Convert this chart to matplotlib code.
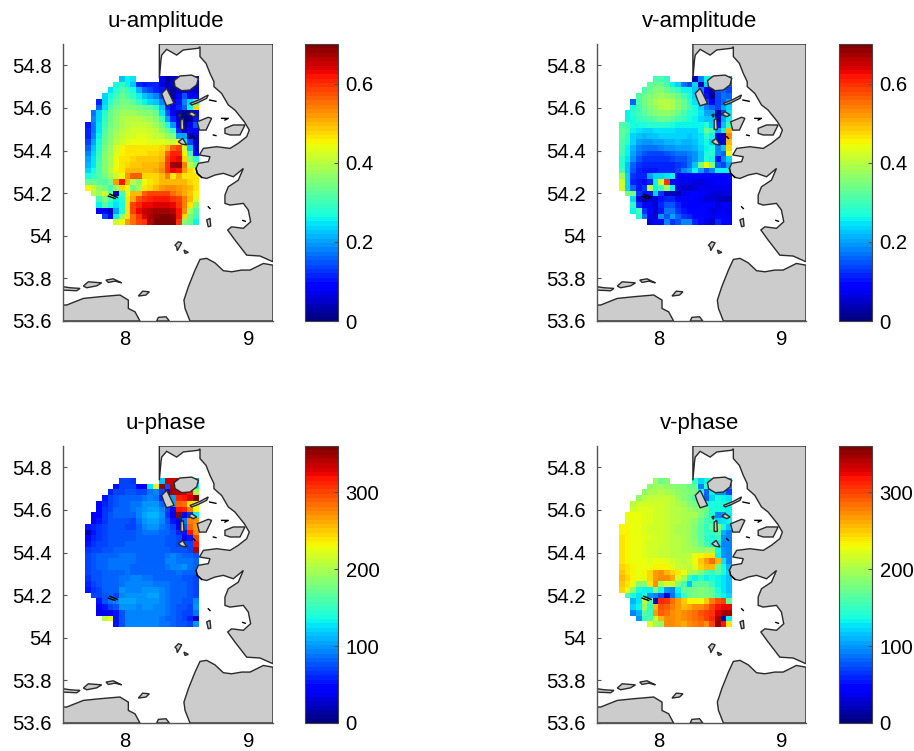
import numpy as np
import matplotlib
matplotlib.use("Agg")
import matplotlib.pyplot as plt

plt.rcParams['font.family'] = ['Liberation Sans', 'DejaVu Sans']
_ = np.nan

lon_edges = np.linspace(7.678, 8.598, 21)
lat_edges = np.linspace(54.75, 54.05, 27)

u_amp = [
[_,_,_,_,_,_,22,26,25,_,_,_,_,8,2,5,7,8,8,9],
[_,_,_,_,_,27,29,26,22,12,10,12,11,6,3,5,8,8,8,7],
[_,_,_,_,25,28,31,30,27,21,16,14,12,10,6,3,5,6,6,5],
[_,_,_,24,27,30,33,31,29,26,22,20,18,14,9,3,8,15,8,8],
[_,_,12,23,29,32,34,34,32,29,26,24,22,18,10,8,10,18,24,30],
[_,_,16,25,31,34,36,36,36,34,33,32,29,22,12,9,11,16,26,48],
[_,17,23,28,33,36,38,38,38,37,36,35,33,25,15,9,5,2,3,8],
[_,18,24,29,33,37,39,40,40,40,39,38,35,30,20,11,6,1,2,10],
[10,17,25,30,34,37,39,40,41,41,41,40,38,34,27,19,9,3,7,15],
[11,17,25,31,35,38,40,41,42,42,42,41,40,37,33,29,12,5,9,8],
[11,18,26,32,36,39,41,42,42,43,43,42,41,40,37,35,20,20,3,6],
[14,20,27,33,37,40,42,43,44,44,44,43,43,43,42,41,45,25,14,5],
[16,22,28,34,38,42,45,46,46,46,46,46,47,48,50,56,58,42,22,6],
[18,23,29,35,38,43,45,47,47,47,47,48,48,49,56,61,61,45,30,9],
[20,25,30,36,39,44,46,47,48,49,49,49,49,50,58,62,63,48,35,28],
[21,25,31,36,39,44,47,48,49,49,50,50,50,52,60,67,68,54,40,36],
[24,27,31,36,40,45,47,50,50,50,50,50,51,53,60,63,62,52,48,44],
[27,29,31,34,38,42,44,52,56,56,48,48,48,50,54,47,51,47,46,46],
[33,33,32,31,34,52,62,50,40,37,44,46,48,50,50,50,50,50,48,46],
[45,41,37,34,30,38,48,44,34,38,47,48,50,52,53,53,52,51,50,47],
[_,40,38,42,33,4,30,44,50,50,56,58,58,59,58,55,53,51,49,45],
[_,_,30,36,30,26,28,47,51,57,60,61,62,62,62,60,58,54,50,43],
[_,_,26,31,27,25,27,47,58,61,63,63,64,64,64,63,60,54,47,36],
[_,_,8,8,5,20,28,46,58,63,65,66,67,67,67,66,62,53,39,31],
[_,_,_,14,8,26,38,47,55,60,64,67,68,69,69,68,62,48,34,30],
[_,_,_,_,_,42,45,52,55,58,60,66,69,70,70,70,60,35,33,26],
]

v_amp = [
[_,_,_,_,_,_,30,31,29,_,_,_,_,4,18,26,26,24,22,20],
[_,_,_,_,_,32,33,33,31,26,24,17,14,24,4,24,22,20,18,16],
[_,_,_,_,31,33,35,35,33,31,29,26,26,22,18,8,3,15,16,14],
[_,_,_,31,34,36,37,38,37,35,33,30,27,23,20,10,2,14,17,16],
[_,_,16,31,34,37,39,40,40,39,36,33,29,25,20,14,8,14,16,20],
[_,_,27,30,33,35,37,39,40,39,36,33,30,27,24,18,16,14,20,24],
[_,26,28,30,32,34,36,37,37,36,33,30,28,27,25,20,20,3,14,25],
[_,26,27,29,30,31,32,33,33,32,30,29,27,26,24,22,22,5,20,26],
[31,30,27,27,27,28,28,28,28,27,26,26,26,26,26,28,24,10,22,30],
[32,31,26,25,24,24,25,25,25,25,24,24,24,24,26,33,30,20,26,50],
[32,29,24,22,21,22,22,23,24,24,23,23,22,23,25,29,26,6,4,53],
[31,28,23,20,19,19,20,20,21,21,22,21,21,22,25,27,24,6,6,50],
[30,26,21,18,17,17,17,18,19,19,20,20,20,21,24,26,27,18,22,48],
[30,26,20,17,15,14,14,14,15,16,17,17,18,19,22,27,28,18,16,44],
[28,25,19,15,13,13,13,13,13,14,15,15,17,19,22,28,26,10,18,24],
[28,22,16,13,11,11,11,11,12,12,13,14,17,22,34,44,36,16,14,20],
[30,22,15,12,10,10,10,11,11,12,14,18,20,26,20,15,18,26,26,26],
[38,24,13,11,11,20,23,24,25,26,8,8,8,8,9,9,9,8,8,8],
[42,24,12,10,9,12,26,42,60,9,7,7,7,6,6,7,7,8,8,8],
[42,24,16,10,13,40,26,30,38,26,6,5,5,6,7,7,7,7,7,7],
[_,34,34,13,10,10,24,13,5,4,4,7,8,9,8,7,6,6,6,7],
[_,_,24,6,3,5,6,10,12,12,9,9,9,8,7,6,6,5,4,4],
[_,_,28,13,8,9,6,12,15,15,12,9,8,8,8,8,8,6,8,9],
[_,_,26,30,13,9,5,10,17,17,13,10,9,9,9,8,6,7,8,7],
[_,_,_,28,17,7,5,19,15,20,16,13,11,9,9,8,7,8,9,8],
[_,_,_,_,_,6,8,8,18,13,15,18,18,11,9,7,5,11,9,8],
]

u_pha = [
[_,_,_,_,_,_,68,70,62,_,_,_,_,115,335,335,340,150,100,110],
[_,_,_,_,_,55,68,72,68,40,35,125,220,350,75,340,350,200,160,130],
[_,_,_,_,60,68,73,76,78,68,72,88,92,68,48,345,340,330,320,200],
[_,_,_,55,68,76,80,80,83,83,86,93,88,58,75,105,310,320,330,355],
[_,_,45,60,70,78,82,82,86,88,96,100,100,83,85,105,290,285,240,220],
[_,_,50,63,72,80,82,84,88,90,100,103,103,93,68,45,320,310,280,225],
[_,40,50,66,74,80,82,80,80,90,103,108,108,98,62,35,350,35,65,130],
[_,45,55,66,74,78,76,74,73,86,98,103,103,93,78,55,35,85,280,270],
[55,60,66,70,74,76,74,72,72,82,92,96,96,88,80,70,45,75,290,265],
[18,55,66,70,74,76,76,74,74,80,86,88,88,84,82,76,60,55,320,270],
[45,60,66,70,74,76,78,78,78,80,82,82,82,80,78,76,68,45,55,300],
[55,62,68,72,76,76,78,80,80,80,80,80,80,80,78,76,72,68,68,320],
[65,68,72,76,78,80,82,82,82,82,82,82,82,82,80,78,76,74,72,340],
[72,76,80,82,84,84,86,86,86,84,84,84,84,84,88,90,86,84,82,78],
[72,76,80,84,86,86,86,86,86,84,84,84,84,84,90,92,88,86,88,83],
[72,76,80,84,86,86,86,86,84,84,84,82,82,82,86,90,92,96,88,83],
[70,76,78,82,84,84,84,86,84,82,80,80,80,82,82,84,86,84,82,80],
[66,74,78,82,84,84,86,88,92,92,88,86,82,82,80,80,80,78,76,73],
[60,70,74,80,84,84,86,92,94,94,92,90,88,88,86,82,80,80,76,73],
[52,66,70,80,82,82,96,92,90,92,98,100,100,92,88,84,82,80,76,73],
[_,68,68,74,80,70,93,100,98,96,100,103,103,94,88,84,82,80,76,73],
[_,_,56,78,86,93,103,106,103,98,100,100,96,92,86,82,80,78,74,93],
[_,_,42,53,68,78,100,100,96,93,96,96,93,90,86,82,78,74,70,96],
[_,_,36,36,34,53,78,94,93,93,94,94,92,90,86,82,78,72,68,88],
[_,_,_,205,225,52,78,93,93,93,92,92,90,88,84,80,76,70,58,28],
[_,_,_,_,_,52,78,90,92,92,92,92,90,88,86,82,78,74,70,98],
]

v_pha = [
[_,_,_,_,_,_,195,170,185,_,_,_,_,150,120,130,150,130,125,120],
[_,_,_,_,_,190,195,195,190,190,180,180,170,170,90,150,150,150,130,90],
[_,_,_,_,190,200,200,205,200,195,190,185,180,175,130,80,130,100,100,70],
[_,_,_,190,205,210,212,212,210,205,195,185,175,160,140,80,120,140,130,125],
[_,_,205,215,215,218,218,216,212,205,200,195,185,175,170,130,135,135,140,130],
[_,_,215,222,220,220,218,215,212,208,205,200,195,190,180,170,140,140,135,130],
[_,228,228,225,222,220,218,215,212,208,205,200,198,200,180,165,135,90,100,130],
[_,230,228,225,222,220,218,215,212,208,205,200,195,190,170,155,150,120,125,130],
[235,232,228,225,222,218,216,214,210,206,202,198,195,185,165,150,165,180,135,115],
[235,232,228,225,222,218,216,214,210,206,202,198,195,185,165,150,150,165,110,90],
[238,232,228,225,222,220,216,214,212,208,204,200,195,185,165,150,140,150,100,95],
[238,232,228,225,222,218,216,214,212,206,204,200,195,188,170,155,140,130,95,95],
[238,232,228,225,222,218,214,212,210,208,204,200,200,195,190,195,195,140,100,95],
[238,232,228,225,220,218,216,212,212,208,205,205,205,225,235,240,240,130,100,95],
[240,235,230,228,225,222,225,225,222,218,210,208,210,225,250,265,285,255,125,95],
[245,238,232,228,225,228,235,235,232,220,212,210,208,222,245,255,255,170,135,110],
[250,240,232,228,235,245,265,270,255,245,240,225,200,200,180,160,150,165,140,120],
[255,242,232,228,225,245,265,275,275,262,215,200,150,130,150,130,140,130,125,115],
[250,240,230,180,185,240,275,200,215,215,185,155,115,165,165,165,150,130,125,115],
[245,230,190,135,130,130,190,140,100,90,130,170,170,175,180,175,165,140,125,115],
[_,160,140,125,135,100,95,75,30,85,120,150,170,175,180,175,170,150,130,120],
[_,_,110,125,205,160,20,310,305,285,265,250,235,235,225,250,280,295,300,170],
[_,_,120,130,195,150,255,295,290,280,265,255,260,270,275,285,300,315,325,325],
[_,_,90,110,165,150,265,290,285,275,268,270,280,285,295,300,305,330,345,345],
[_,_,_,100,150,160,210,255,270,270,265,270,280,285,290,300,310,345,20,130],
[_,_,_,_,_,220,195,190,270,275,265,262,270,280,285,275,300,350,320,240],
]

land_main = [(9.2,54.9),(8.28,54.9),(8.28,54.739),(8.293,54.825),(8.299,54.848),(8.339,54.875),(8.42,54.848),
 (8.474,54.872),(8.596,54.88),(8.609,54.887),(8.609,54.841),(8.658,54.809),(8.69,54.762),(8.722,54.723),
 (8.722,54.7),(8.784,54.668),(8.838,54.614),(8.892,54.59),(8.968,54.535),(9.008,54.496),(8.987,54.465),
 (8.919,54.434),(8.852,54.41),(8.744,54.418),(8.636,54.41),(8.604,54.379),(8.69,54.371),(8.676,54.348),
 (8.596,54.34),(8.577,54.316),(8.587,54.293),(8.622,54.274),(8.663,54.269),(8.73,54.285),(8.798,54.293),
 (8.879,54.277),(8.96,54.316),(8.919,54.261),(8.838,54.23),(8.811,54.191),(8.811,54.152),(8.852,54.144),
 (8.96,54.152),(9.0,54.121),(9.019,54.066),(8.96,54.035),(8.865,54.042),(8.833,54.027),(8.892,53.98),
 (8.987,53.909),(9.095,53.905),(9.2,53.878)]
land_south = [(9.2,53.862),(9.122,53.87),(9.014,53.839),(8.946,53.839),(8.865,53.831),(8.798,53.836),(8.73,53.873),
 (8.663,53.894),(8.609,53.889),(8.569,53.839),(8.515,53.761),(8.479,53.698),(8.488,53.659),(8.528,53.6),(9.2,53.6)]
land_sw = [(7.5,53.675),(7.53,53.675),(7.665,53.706),(7.8,53.714),(7.961,53.722),(8.029,53.698),(8.029,53.659),
 (8.083,53.643),(8.123,53.6),(7.5,53.6)]
islands = [
 [(8.258,53.6),(8.272,53.617),(8.334,53.62),(8.361,53.6)],
 [(7.5,53.761),(7.557,53.756),(7.638,53.753),(7.611,53.742),(7.5,53.745)],
 [(7.665,53.764),(7.705,53.784),(7.813,53.779),(7.773,53.765),(7.692,53.756)],
 [(7.848,53.792),(7.907,53.798),(7.975,53.779),(7.921,53.787),(7.867,53.781)],
 [(8.11,53.717),(8.145,53.74),(8.199,53.737),(8.172,53.722)],
 [(8.407,53.956),(8.434,53.972),(8.461,53.967),(8.425,53.93),(8.42,53.948)],
 [(8.479,53.933),(8.515,53.922),(8.488,53.917)],
 [(8.399,54.728),(8.447,54.75),(8.542,54.754),(8.596,54.739),(8.582,54.708),(8.528,54.684),(8.461,54.681),(8.407,54.7)],
 [(8.299,54.668),(8.339,54.692),(8.366,54.661),(8.399,54.621),(8.339,54.61),(8.318,54.637)],
 [(8.528,54.621),(8.609,54.64),(8.676,54.661),(8.663,54.645),(8.596,54.626),(8.542,54.614)],
 [(8.515,54.571),(8.542,54.582),(8.582,54.567),(8.555,54.559)],
 [(8.453,54.543),(8.474,54.551),(8.479,54.499),(8.453,54.499)],
 [(8.434,54.567),(8.453,54.571),(8.447,54.556)],
 [(8.434,54.441),(8.469,54.457),(8.501,54.426),(8.461,54.43)],
 [(8.587,54.535),(8.676,54.556),(8.703,54.551),(8.658,54.496),(8.604,54.496)],
 [(8.811,54.504),(8.879,54.52),(8.973,54.52),(8.933,54.473),(8.852,54.473),(8.811,54.481)],
 [(8.663,54.074),(8.69,54.082),(8.696,54.046),(8.676,54.042)],
]
shoals = [
 [(8.784,54.551),(8.838,54.551),(8.811,54.543)],
 [(8.687,54.637),(8.738,54.631)],
 [(8.555,54.465),(8.569,54.457)],
 [(8.717,54.473),(8.738,54.47)],
 [(7.867,54.186),(7.921,54.175)],
 [(7.88,54.195),(7.94,54.18)],
 [(8.676,54.136),(8.69,54.128)],
 [(8.955,54.072),(8.976,54.068)],
 [(8.577,54.316),(8.587,54.293),(8.622,54.274)],
]

titles = ['u-amplitude', 'v-amplitude', 'u-phase', 'v-phase']
fields = [u_amp, v_amp, u_pha, v_pha]
scales = [0.01, 0.01, 1, 1]
vmaxes = [0.7, 0.7, 360, 360]
cb_ticks = [[0, 0.2, 0.4, 0.6], [0, 0.2, 0.4, 0.6], [0, 100, 200, 300], [0, 100, 200, 300]]
cb_labels = [['0', '0.2', '0.4', '0.6'], ['0', '0.2', '0.4', '0.6'], ['0', '100', '200', '300'], ['0', '100', '200', '300']]

W, H = 914, 751
fig = plt.figure(figsize=(W / 100, H / 100), dpi=100, facecolor='white')
def rect(x0, x1, y0, y1):
    return [x0 / W, 1 - y1 / H, (x1 - x0) / W, (y1 - y0) / H]

lefts = [(63, 273, 305, 338), (597, 806, 839, 872)]
rows = [(44, 321), (446, 723)]
cmap = plt.get_cmap('jet', 64)
FS = 14.6
EC = '#2a2a2a'
for k in range(4):
    lx0, lx1, cx0, cx1 = lefts[k % 2]
    y0, y1 = rows[k // 2]
    ax = fig.add_axes(rect(lx0, lx1, y0, y1))
    data = np.array(fields[k], dtype=float) * scales[k]
    m = ax.pcolormesh(lon_edges, lat_edges, data, cmap=cmap, vmin=0, vmax=vmaxes[k],
                      shading='flat', antialiased=False, linewidth=0, zorder=1)
    for poly in [land_main, land_south, land_sw] + islands:
        xs, ys = zip(*poly)
        ax.fill(xs, ys, facecolor='#cccccc', edgecolor=EC, linewidth=1.0, zorder=2, clip_on=True)
    for ln in shoals:
        xs, ys = zip(*ln)
        ax.plot(xs, ys, color='black', linewidth=1.0, zorder=3)
    ax.set_xlim(7.5, 9.2)
    ax.set_ylim(53.6, 54.9)
    ax.set_xticks([8, 9])
    ax.set_xticklabels(['8', '9'])
    ax.set_yticks([53.6, 53.8, 54, 54.2, 54.4, 54.6, 54.8])
    ax.set_yticklabels(['53.6', '53.8', '54', '54.2', '54.4', '54.6', '54.8'])
    ax.tick_params(axis='x', direction='in', length=3, width=0.8, labelsize=FS, color='#555555', pad=6.5)
    ax.tick_params(axis='y', direction='in', length=3, width=0.8, labelsize=FS, color='#555555', pad=8)
    for s in ['top', 'right']:
        ax.spines[s].set_visible(False)
    for s in ['left', 'bottom']:
        ax.spines[s].set_color('#555555')
        ax.spines[s].set_linewidth(1.0)
    ax.set_title(titles[k], fontsize=16, pad=12.5, x=0.49)
    cax = fig.add_axes(rect(cx0, cx1, y0, y1))
    cb = fig.colorbar(m, cax=cax)
    cb.set_ticks(cb_ticks[k])
    cb.set_ticklabels(cb_labels[k])
    cb.ax.tick_params(direction='in', length=3, width=0.8, labelsize=FS, color='#555555', pad=5.5)
    cb.outline.set_edgecolor('#444444')
    cb.outline.set_linewidth(0.8)

fig.savefig('out.png', dpi=100)
